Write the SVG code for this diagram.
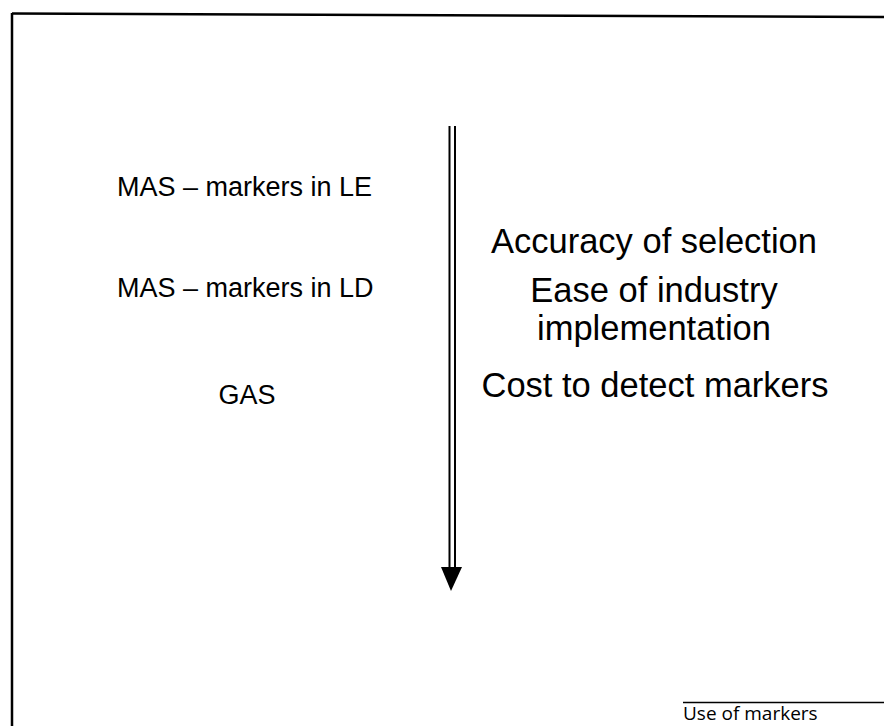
<svg xmlns="http://www.w3.org/2000/svg" width="884" height="726" viewBox="0 0 884 726">
  <style>
    .lbl { font-family: "Liberation Sans", Arial, sans-serif; fill: #000; }
    .left { font-size: 27px; }
    .right { font-size: 34.5px; text-anchor: middle; }
    .foot { font-family: "Open Sans", "DejaVu Sans", sans-serif; font-size: 19px; fill: #000; }
    .rule { stroke: #000; fill: none; }
  </style>

  <rect width="884" height="726" fill="#fff"/>

  <!-- page frame -->
  <g id="frame">
    <line class="rule" x1="12" y1="13.5" x2="884" y2="17" stroke-width="2.5"/>
    <line class="rule" x1="12" y1="13" x2="12" y2="726" stroke-width="2.5"/>
  </g>

  <!-- left column: selection strategies -->
  <g id="mas-le"><text class="lbl left" x="117" y="196">MAS – markers in LE</text></g>
  <g id="mas-ld"><text class="lbl left" x="117" y="297">MAS – markers in LD</text></g>
  <g id="gas"><text class="lbl left" x="247" y="404" text-anchor="middle" font-size="26">GAS</text></g>

  <!-- downward double-shafted arrow -->
  <g id="connectors">
    <line class="rule" x1="449.5" y1="126" x2="449.5" y2="570" stroke-width="2"/>
    <line class="rule" x1="455" y1="126" x2="455" y2="570" stroke-width="2"/>
    <polygon points="441,567 462,567 451,591" fill="#000"/>
  </g>

  <!-- right column: criteria -->
  <g id="accuracy"><text class="lbl right" x="654" y="253">Accuracy of selection</text></g>
  <g id="ease">
    <text class="lbl right" x="654" y="302">Ease of industry</text>
    <text class="lbl right" x="654" y="340">implementation</text>
  </g>
  <g id="cost"><text class="lbl right" x="655" y="397">Cost to detect markers</text></g>

  <!-- footer caption -->
  <g id="footer">
    <line class="rule" x1="683" y1="702.5" x2="884" y2="702.5" stroke-width="1.5"/>
    <text class="foot" x="683" y="720">Use of markers</text>
  </g>
</svg>
